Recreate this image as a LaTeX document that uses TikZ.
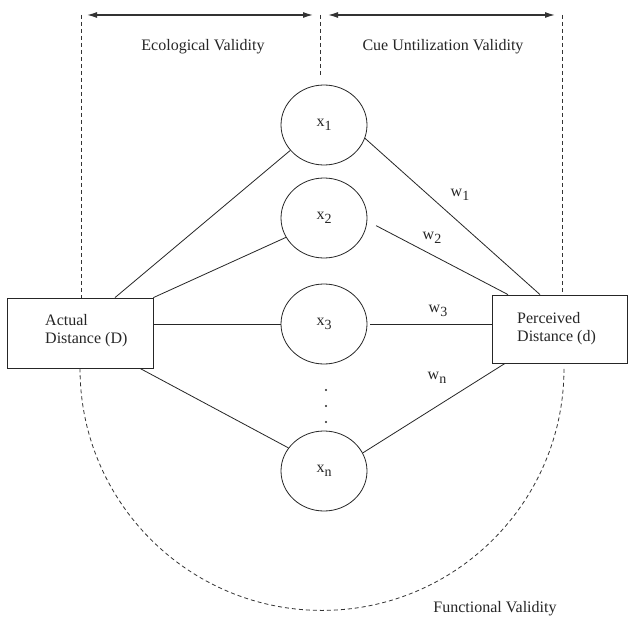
\documentclass[tikz,border=0pt]{standalone}
\usepackage{fontspec}
\setmainfont{Liberation Serif}
\usetikzlibrary{arrows.meta,shapes.geometric,calc}
\newcommand\cuelab[2]{#1\raisebox{-0.6ex}{\fontsize{14}{15}\selectfont #2}}
\begin{document}
\begin{tikzpicture}[x=1pt,y=-1pt,
  every node/.style={font=\fontsize{16}{18}\selectfont, text=black!85},
  cue/.style={draw=black!85, line width=0.8pt, ellipse, minimum width=86pt, minimum height=80pt, inner sep=0pt},
  box/.style={draw=black!85, line width=0.8pt, rectangle, inner sep=0pt},
  link/.style={draw=black!85, line width=0.8pt},
  guide/.style={draw=black!80, line width=0.8pt, dash pattern=on 4pt off 3pt},
  span/.style={draw=black!80, line width=1.3pt, {Latex[length=10pt,width=6pt]}-{Latex[length=10pt,width=6pt]}},
  lbl/.style={inner sep=0pt, align=left}
]
\fill[white] (0,0) rectangle (628,620);
\useasboundingbox (0,0) rectangle (628,620);

% boxes
\node[box, minimum width=146pt, minimum height=70pt] (A) at (80,333) {};
\node[lbl, anchor=west] (At) at (45,331) {Actual\\Distance (D)};
\node[box, minimum width=135pt, minimum height=68pt] (B) at (559.5,329) {};
\node[lbl, anchor=west] (Bt) at (517,329) {Perceived\\Distance (d)};

% cues
\node[cue] (x1) at (324,125) {\cuelab{x}{1}};
\node[cue] (x2) at (324,218) {\cuelab{x}{2}};
\node[cue] (x3) at (324,324) {\cuelab{x}{3}};
\node[cue] (xn) at (324,471) {\cuelab{x}{n}};

% dots
\fill[black!85] (326,390) circle (1.1) (326,406) circle (1.1) (326,422) circle (1.1);

% left links
\draw[link] ([xshift=35pt]A.north) -- (x1.217);
\draw[link] (A.north east) -- (x2.207);
\draw[link] (A.east |- x3.west) -- (x3.west);
\draw[link] ([xshift=60pt]A.south) -- (xn.147);

% right links
\draw[link] (x1.342) -- ([xshift=-19.5pt]B.north);
\draw[link, shorten <=10pt] (x2.-4) -- ([xshift=-51.5pt]B.north);
\draw[link, shorten <=3pt] (x3.east) -- (B.west |- x3.east);
\draw[link] (xn.25) -- ([xshift=-54.5pt]B.south);

% weights
\node[lbl] (w1) at (460,195) {\cuelab{w}{1}};
\node[lbl] (w2) at (432,238) {\cuelab{w}{2}};
\node[lbl] (w3) at (438,311) {\cuelab{w}{3}};
\node[lbl] (wn) at (437,378) {\cuelab{w}{n}};

% guides
\coordinate (LT) at (81,15);
\coordinate (MT) at (320,15);
\coordinate (RT) at (562,15);
\draw[guide] (LT) -- (LT |- A.north);
\draw[guide, shorten >=9pt] (MT) -- (MT |- x1.north);
\draw[guide] (RT) -- (RT |- B.north);
\draw[guide] (A.south) arc[start angle=180, end angle=0, radius=242];

% spans
\coordinate (L1) at (87,15);
\coordinate (L2) at (313,15);
\coordinate (R1) at (328,15);
\coordinate (R2) at (555,15);
\draw[span] (L1) -- (L2);
\draw[span] (R1) -- (R2);

\node (eco) at (203,47) {Ecological Validity};
\node (cue) at (443,47) {Cue Untilization Validity};
\node (fun) at (495,609) {Functional Validity};
\end{tikzpicture}
\end{document}
